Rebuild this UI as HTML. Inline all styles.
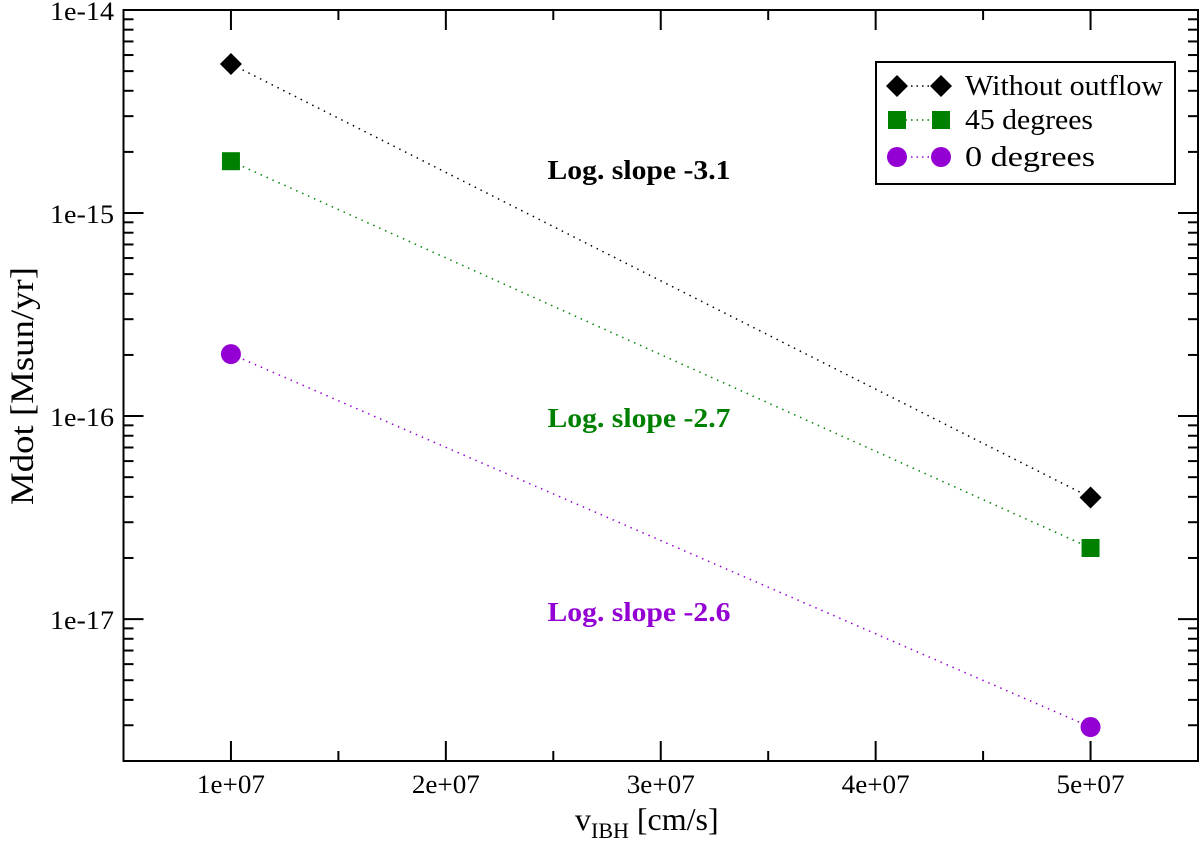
<!DOCTYPE html>
<html><head><meta charset="utf-8"><style>
body{margin:0;background:#fff}
svg{display:block;font-family:"Liberation Serif",serif}
</style></head><body>
<svg id="c" width="1200" height="847" xmlns="http://www.w3.org/2000/svg"></svg>
<script>
const categories=[1e7,5e7];
const seriesNames=["Without outflow","45 degrees","0 degrees"];
const seriesWithout=[5.42e-15,3.97e-17];
const series45=[1.8e-15,2.24e-17];
const series0=[2.02e-16,2.94e-18];
const xTicks=[1e7,2e7,3e7,4e7,5e7];
const xTickLabels=["1e+07","2e+07","3e+07","4e+07","5e+07"];
const yTicks=[1e-17,1e-16,1e-15,1e-14];
const yTickLabels=["1e-17","1e-16","1e-15","1e-14"];
const slopeLabels=["Log. slope -3.1","Log. slope -2.7","Log. slope -2.6"];

const L=123.5,R=1198,T=10,B=761;
const xMin=0.5e7,xMax=5.5e7,yMinL=Math.log10(2e-18),yMaxL=-14;
const X=v=>L+(v-xMin)/(xMax-xMin)*(R-L);
const Y=v=>B-(Math.log10(v)-yMinL)/(yMaxL-yMinL)*(B-T);
const svg=document.getElementById('c');
const NS="http://www.w3.org/2000/svg";
function mk(tag,attrs,parent){const e=document.createElementNS(NS,tag);for(const k in attrs)e.setAttribute(k,attrs[k]);(parent||svg).appendChild(e);return e;}

const axes=mk('g',{});


mk('rect',{x:L,y:T,width:R-L,height:B-T,fill:'none',stroke:'#000','stroke-width':2},axes);
for(let v=xMin;v<=xMax+1;v+=0.5e7){
  const major=Math.abs(v/1e7-Math.round(v/1e7))<1e-6;
  const len=major?20:10,x=X(v);
  mk('line',{x1:x,y1:B,x2:x,y2:B-len,stroke:'#000','stroke-width':2},axes);
  mk('line',{x1:x,y1:T,x2:x,y2:T+len,stroke:'#000','stroke-width':2},axes);
}
xTicks.forEach((v,i)=>{
  const t=mk('text',{x:X(v),y:B+32,'text-anchor':'middle','font-size':26,textLength:68,lengthAdjust:'spacingAndGlyphs'},axes);
  t.textContent=xTickLabels[i];
  
  
});
for(let d=-18;d<=-14;d++){
  for(let m=1;m<=9;m++){
    const v=m*Math.pow(10,d);
    if(v<2e-18*0.999||v>1e-14*1.001)continue;
    const len=m===1?20:10,y=Y(v);
    mk('line',{x1:L,y1:y,x2:L+len,y2:y,stroke:'#000','stroke-width':2},axes);
    mk('line',{x1:R,y1:y,x2:R-len,y2:y,stroke:'#000','stroke-width':2},axes);
  }
}
yTicks.forEach((v,i)=>{
  const t=mk('text',{x:114,y:Y(v)+10,'text-anchor':'end','font-size':26,textLength:64,lengthAdjust:'spacingAndGlyphs'},axes);
  t.textContent=yTickLabels[i];
  
  
});
const xt=mk('text',{x:575,y:830,'font-size':32});
xt.innerHTML='v<tspan font-size="22" dy="8">IBH</tspan><tspan dy="-8"> [cm/s]</tspan>';


const yt=mk('text',{x:0,y:0,'text-anchor':'middle','font-size':33,textLength:238,lengthAdjust:'spacingAndGlyphs',transform:'translate(33,386) rotate(-90)'});
yt.textContent='Mdot [Msun/yr]';



function marker(type,color,x,y,p){
  let e;
  if(type==='d')e=mk('polygon',{points:`${x},${y-11} ${x+11},${y} ${x},${y+11} ${x-11},${y}`,fill:color},p);
  else if(type==='s')e=mk('rect',{x:x-9,y:y-9,width:18,height:18,fill:color},p);
  else e=mk('circle',{cx:x,cy:y,r:10,fill:color},p);
  return e;
}
const allSeries=[[seriesWithout,'#000','d','series-without-outflow'],[series45,'#008000','s','series-45-degrees'],[series0,'#9400d3','c','series-0-degrees']];
allSeries.forEach(([vals,col,type,name])=>{
  const g=mk('g',{});
  
  
  mk('line',{x1:X(categories[0]),y1:Y(vals[0]),x2:X(categories[1]),y2:Y(vals[1]),stroke:col,'stroke-width':1.5,'stroke-dasharray':'1.5 5'},g);
  vals.forEach((v,i)=>{const m=marker(type,col,X(categories[i]),Y(v),g);
    
    });
});
[[170,'#000'],[418,'#008000'],[612,'#9400d3']].forEach(([y,c],i)=>{
  const t=mk('text',{x:639,y:y+9,'text-anchor':'middle','font-size':27,'font-weight':'bold',fill:c,textLength:183,lengthAdjust:'spacingAndGlyphs'});
  t.textContent=slopeLabels[i];
  
  
});
const lg=mk('g',{});


mk('rect',{x:876,y:62,width:299,height:122,fill:'#fff',stroke:'#000','stroke-width':2},lg);
const legW=[198,128,130];
[[86,'#000','d'],[120,'#008000','s'],[157,'#9400d3','c']].forEach(([y,c,type],i)=>{
  const e=mk('g',{},lg);
  
  
  mk('line',{x1:900,y1:y,x2:940,y2:y,stroke:c,'stroke-width':1.5,'stroke-dasharray':'1.5 4'},e);
  marker(type,c,897,y,e);marker(type,c,941,y,e);
  const t=mk('text',{x:965,y:y+9,'font-size':29,textLength:legW[i],lengthAdjust:'spacingAndGlyphs'},e);
  t.textContent=seriesNames[i];
});
</script>
</body></html>
